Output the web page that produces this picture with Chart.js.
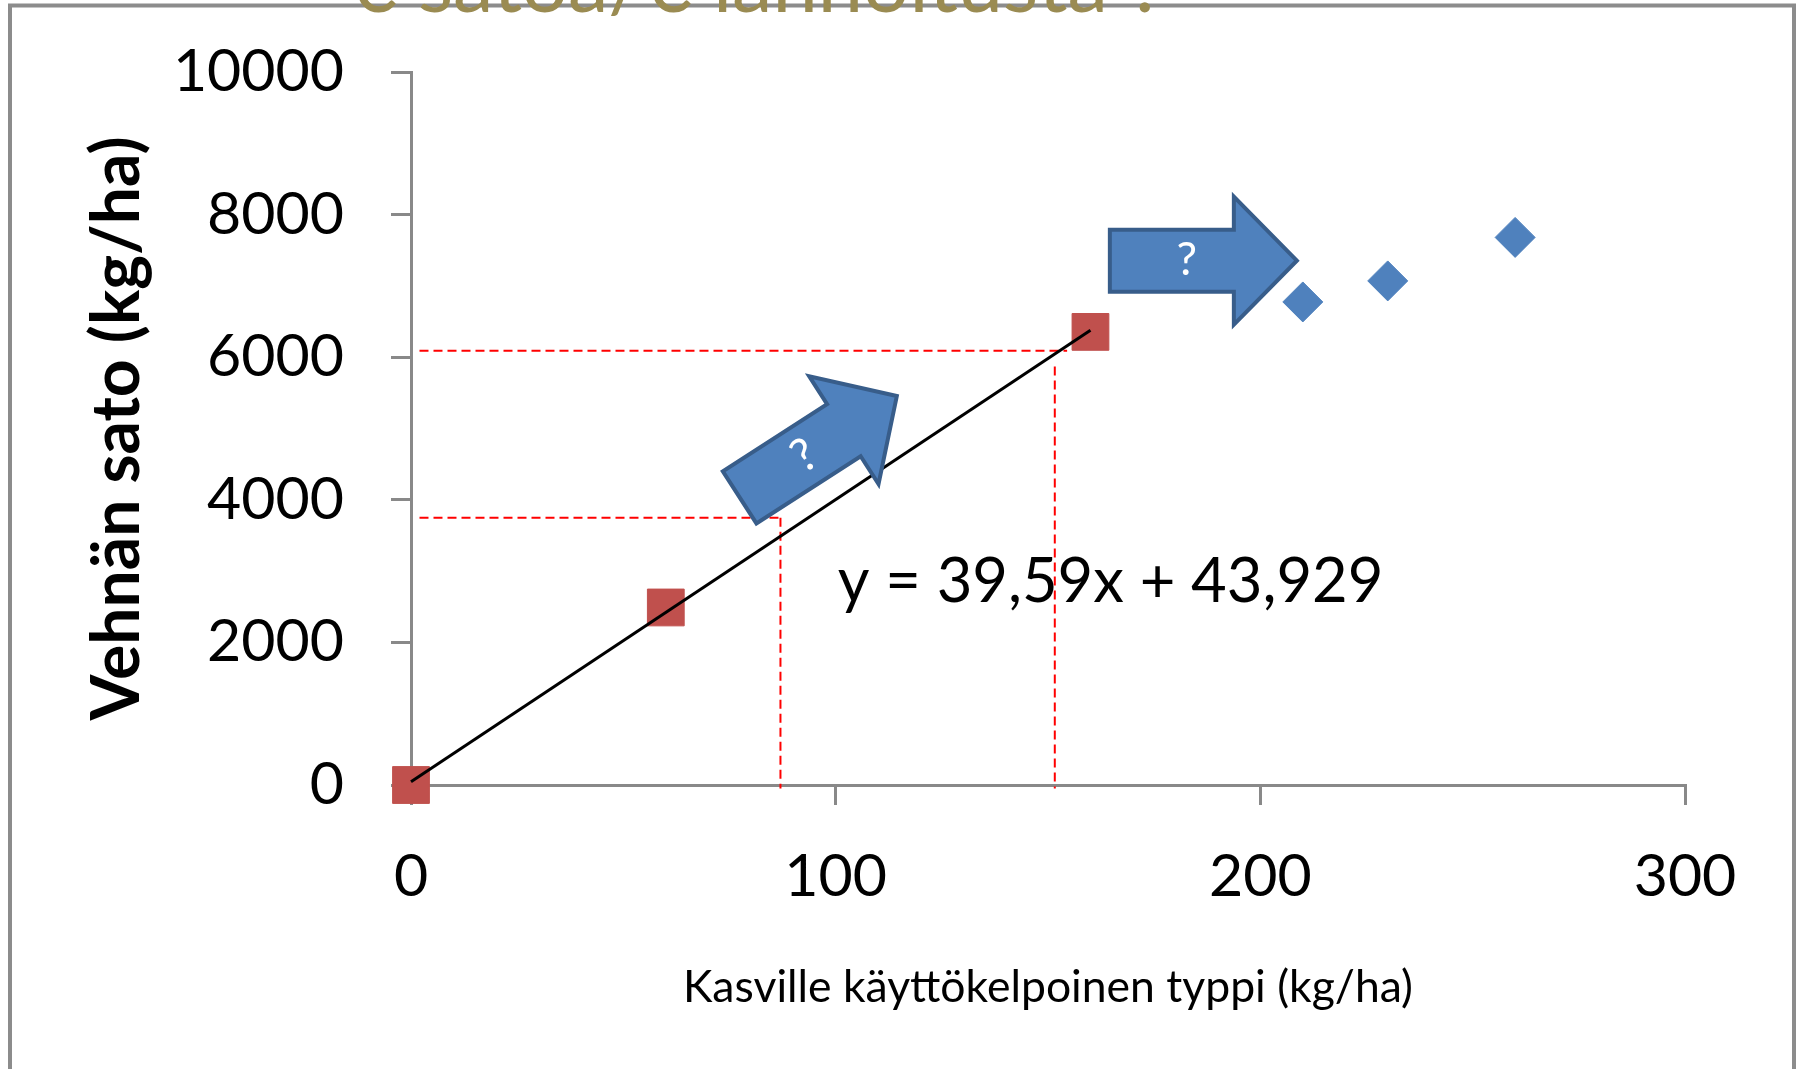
<!DOCTYPE html>
<html>
<head>
<meta charset="utf-8">
<script src="https://cdn.jsdelivr.net/npm/chart.js@4.4.1/dist/chart.umd.min.js"></script>
<style>
  html, body { margin: 0; padding: 0; background: #ffffff; }
  #wrap { width: 1800px; height: 1069px; position: relative; }
</style>
</head>
<body>
<div id="wrap"><canvas id="c" width="1800" height="1069"></canvas></div>
<script>
// ---------- data ----------
const titleText = "€ satoa/€ lannoitusta ?";
const yAxisTitle = "Vehnän sato (kg/ha)";
const xAxisTitle = "Kasville käyttökelpoinen typpi (kg/ha)";
const equationText = "y = 39,59x + 43,929";
const arrowLabel = "?";

const xTickValues = [0, 100, 200, 300];
const yTickValues = [0, 2000, 4000, 6000, 8000, 10000];

const measuredN = [0, 60, 160];
const measuredYield = [0, 2490, 6355];

const unknownN = [210, 230, 260];
const unknownYield = [6775, 7070, 7680];

const trendN = [0, 160];
const trendYield = [44, 6378];

const guideHighN = [2, 154.5];
const guideHighYield = [6090, 6090];
const guideHighDropN = [151.6, 151.6];
const guideHighDropYield = [5870, -50];

const guideLowN = [2, 87];
const guideLowYield = [3750, 3750];
const guideLowDropN = [87, 87];
const guideLowDropYield = [3750, -50];

// annotation anchors in data units: [x, y]
const equationAnchor = [100.5, 2566];
const arrowTips = [[114.4, 5455], [208.6, 7354]];
const arrowAngles = [-32.8, 0];

// ---------- helpers ----------
const toPts = (xs, ys) => xs.map((x, i) => ({ x: x, y: ys[i] }));
const FONT = "Lato, 'Open Sans', 'Noto Sans', sans-serif";
const AXIS_GREY = "#898989";

const dashed = (xs, ys) => ({
  type: 'line',
  data: toPts(xs, ys),
  borderColor: '#ff0000',
  borderWidth: 2,
  borderDash: [9, 5],
  pointRadius: 0,
  fill: false,
  clip: false,
  order: 1
});

const annotationPlugin = {
  id: 'annotations',
  afterDatasetsDraw(chart) {
    const ctx = chart.ctx;
    const xs = chart.scales.x, ys = chart.scales.y;
    // arrows
    arrowTips.forEach((tip, i) => {
      const px = xs.getPixelForValue(tip[0]);
      const py = ys.getPixelForValue(tip[1]);
      ctx.save();
      ctx.translate(px, py);
      ctx.rotate(arrowAngles[i] * Math.PI / 180);
      ctx.beginPath();
      ctx.moveTo(0, 0);
      ctx.lineTo(-63, -64);
      ctx.lineTo(-63, -31);
      ctx.lineTo(-187, -31);
      ctx.lineTo(-187, 31);
      ctx.lineTo(-63, 31);
      ctx.lineTo(-63, 64);
      ctx.closePath();
      ctx.fillStyle = '#4f81bd';
      ctx.fill();
      ctx.lineWidth = 4;
      ctx.lineJoin = 'miter';
      ctx.strokeStyle = '#385d8a';
      ctx.stroke();
      ctx.fillStyle = '#ffffff';
      ctx.font = "46px " + FONT;
      ctx.textAlign = 'center';
      ctx.textBaseline = 'middle';
      ctx.fillText(arrowLabel, -110, 0);
      ctx.restore();
    });
    // equation
    ctx.save();
    ctx.fillStyle = '#000000';
    ctx.font = "61.5px " + FONT;
    ctx.textAlign = 'left';
    ctx.textBaseline = 'alphabetic';
    ctx.fillText(equationText, xs.getPixelForValue(equationAnchor[0]), ys.getPixelForValue(equationAnchor[1]));
    ctx.restore();
  },
  afterDraw(chart) {
    const ctx = chart.ctx;
    ctx.save();
    // slide frame
    ctx.strokeStyle = '#8c8c8c';
    ctx.lineWidth = 4;
    ctx.beginPath();
    ctx.moveTo(10, 1069);
    ctx.lineTo(10, 5.5);
    ctx.lineTo(1794, 5.5);
    ctx.lineTo(1794, 1069);
    ctx.stroke();
    // cut-off slide title
    ctx.fillStyle = '#9a8b52';
    let size = 82;
    ctx.font = size + "px " + FONT;
    const w = ctx.measureText(titleText).width;
    size = size * 815 / w;
    ctx.font = size + "px " + FONT;
    ctx.textAlign = 'left';
    ctx.textBaseline = 'alphabetic';
    ctx.fillText(titleText, 350, 12);
    ctx.restore();
  }
};

new Chart(document.getElementById('c'), {
  type: 'scatter',
  data: {
    datasets: [
      {
        type: 'line',
        data: toPts(trendN, trendYield),
        borderColor: '#000000',
        borderWidth: 3,
        pointRadius: 0,
        fill: false,
        clip: false,
        order: 0
      },
      dashed(guideHighN, guideHighYield),
      dashed(guideHighDropN, guideHighDropYield),
      dashed(guideLowN, guideLowYield),
      dashed(guideLowDropN, guideLowDropYield),
      {
        data: toPts(measuredN, measuredYield),
        pointStyle: 'rect',
        pointRadius: 26,
        pointHoverRadius: 26,
        backgroundColor: '#c0504d',
        borderColor: '#c0504d',
        borderWidth: 1,
        clip: false,
        order: 2
      },
      {
        data: toPts(unknownN, unknownYield),
        pointStyle: 'rectRot',
        pointRadius: 20,
        pointHoverRadius: 20,
        backgroundColor: '#4f81bd',
        borderColor: '#4f81bd',
        borderWidth: 1,
        clip: false,
        order: 3
      }
    ]
  },
  options: {
    responsive: false,
    animation: false,
    events: [],
    layout: { padding: { left: 0, right: 115, top: 72, bottom: 0 } },
    plugins: { legend: { display: false }, tooltip: { enabled: false }, title: { display: false } },
    scales: {
      x: {
        type: 'linear',
        min: 0, max: 300,
        afterBuildTicks: s => { s.ticks = xTickValues.map(v => ({ value: v })); },
        afterFit: s => { s.height = 284; },
        grid: { display: true, drawOnChartArea: false, drawTicks: true, tickLength: 20, color: AXIS_GREY, lineWidth: 3 },
        border: { display: true, color: AXIS_GREY, width: 3 },
        ticks: { color: '#000000', font: { family: FONT, size: 59 }, padding: 37, maxRotation: 0, callback: v => String(v) },
        title: { display: true, text: xAxisTitle, color: '#000000', font: { family: FONT, size: 44.5 }, padding: { top: 0, bottom: 55 } }
      },
      y: {
        type: 'linear',
        min: 0, max: 10000,
        afterBuildTicks: s => { s.ticks = yTickValues.map(v => ({ value: v })); },
        afterFit: s => { s.width = 411; },
        grid: { display: true, drawOnChartArea: false, drawTicks: true, tickLength: 20, color: AXIS_GREY, lineWidth: 3 },
        border: { display: true, color: AXIS_GREY, width: 3 },
        ticks: { color: '#000000', font: { family: FONT, size: 59, lineHeight: 0.7 }, padding: 47, callback: v => String(v) },
        title: { display: true, text: yAxisTitle, color: '#000000', font: { family: FONT, size: 66, weight: 'bold' }, padding: { top: 78, bottom: 0 } }
      }
    }
  },
  plugins: [annotationPlugin]
});
</script>
</body>
</html>
